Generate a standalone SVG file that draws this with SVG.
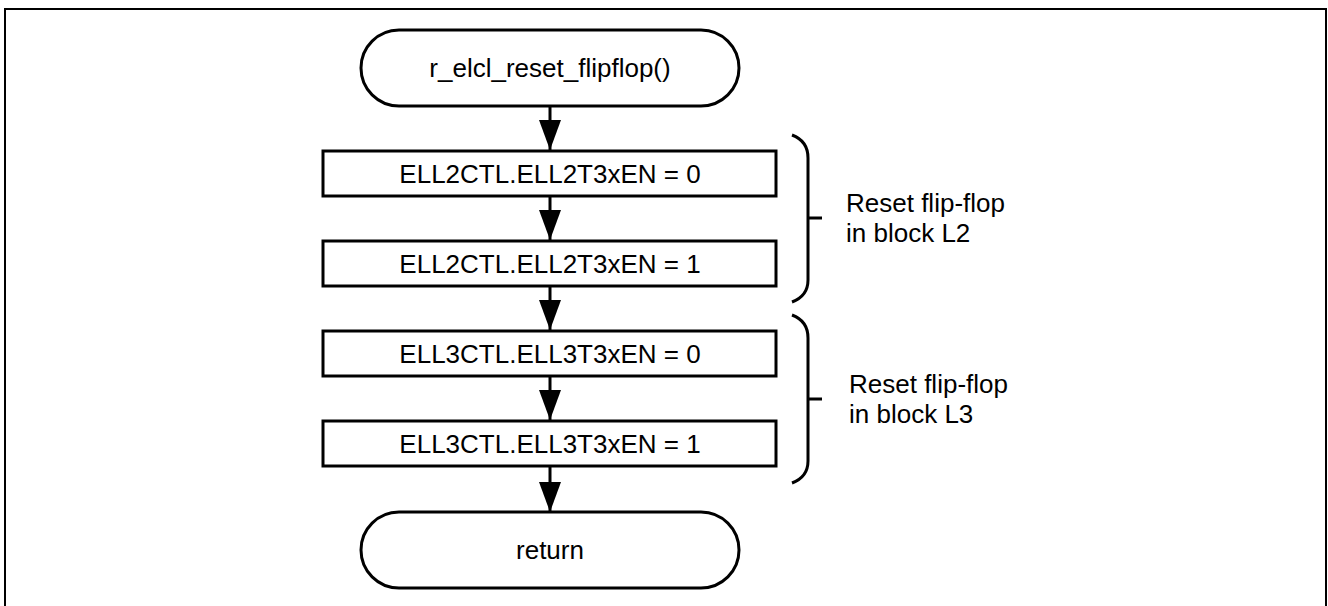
<svg xmlns="http://www.w3.org/2000/svg" width="1328" height="606" viewBox="0 0 1328 606">
<style>
.frame{fill:#fff;stroke:#000;stroke-width:2}
.term,.box{fill:#fff;stroke:#000;stroke-width:3}
.t{font-family:"Liberation Sans",Arial,sans-serif;font-size:26px;fill:#000}
.c{text-anchor:middle}
.conn{stroke:#000;stroke-width:3;fill:none}
.brace{stroke:#000;stroke-width:3;fill:none}
</style>
<defs>
<marker id="ah" markerUnits="userSpaceOnUse" markerWidth="22" markerHeight="30" refX="11" refY="30" orient="auto-start-reverse" viewBox="0 0 22 30">
<path d="M0,0 L22,0 L11,30 Z" fill="#000" transform="rotate(0)"/>
</marker>
</defs>
<rect class="frame" x="5" y="9" width="1321" height="610"/>
<g id="connectors">
<path class="conn" d="M550,106 V150"/>
<path class="conn" d="M550,196 V240"/>
<path class="conn" d="M550,286 V330"/>
<path class="conn" d="M550,376 V420"/>
<path class="conn" d="M550,466 V512"/>
<path d="M539,120 H561 L550,150 Z"/>
<path d="M539,210 H561 L550,240 Z"/>
<path d="M539,300 H561 L550,330 Z"/>
<path d="M539,390 H561 L550,420 Z"/>
<path d="M539,482 H561 L550,512 Z"/>
</g>
<g id="start">
<rect class="term" x="361" y="30" width="378" height="76" rx="38" ry="38"/>
<text class="t c" x="550" y="77">r_elcl_reset_flipflop()</text>
</g>
<g id="box1">
<rect class="box" x="323" y="151" width="453" height="45"/>
<text class="t c" x="550" y="183">ELL2CTL.ELL2T3xEN = 0</text>
</g>
<g id="box2">
<rect class="box" x="323" y="241" width="453" height="45"/>
<text class="t c" x="550" y="273">ELL2CTL.ELL2T3xEN = 1</text>
</g>
<g id="box3">
<rect class="box" x="323" y="331" width="453" height="45"/>
<text class="t c" x="550" y="363">ELL3CTL.ELL3T3xEN = 0</text>
</g>
<g id="box4">
<rect class="box" x="323" y="421" width="453" height="45"/>
<text class="t c" x="550" y="453">ELL3CTL.ELL3T3xEN = 1</text>
</g>
<g id="end">
<rect class="term" x="361" y="512" width="378" height="76" rx="38" ry="38"/>
<text class="t c" x="550" y="559">return</text>
</g>
<g id="braceL2">
<path class="brace" d="M792,135 Q808,141 808,158 V280 Q808,296 792,302"/>
<path class="brace" d="M808,218 H822"/>
<text class="t" x="846" y="212">Reset flip-flop</text>
<text class="t" x="846" y="242">in block L2</text>
</g>
<g id="braceL3">
<path class="brace" d="M792,315 Q808,321 808,338 V461 Q808,477 792,483"/>
<path class="brace" d="M808,399 H822"/>
<text class="t" x="849" y="393">Reset flip-flop</text>
<text class="t" x="849" y="423">in block L3</text>
</g>
</svg>
